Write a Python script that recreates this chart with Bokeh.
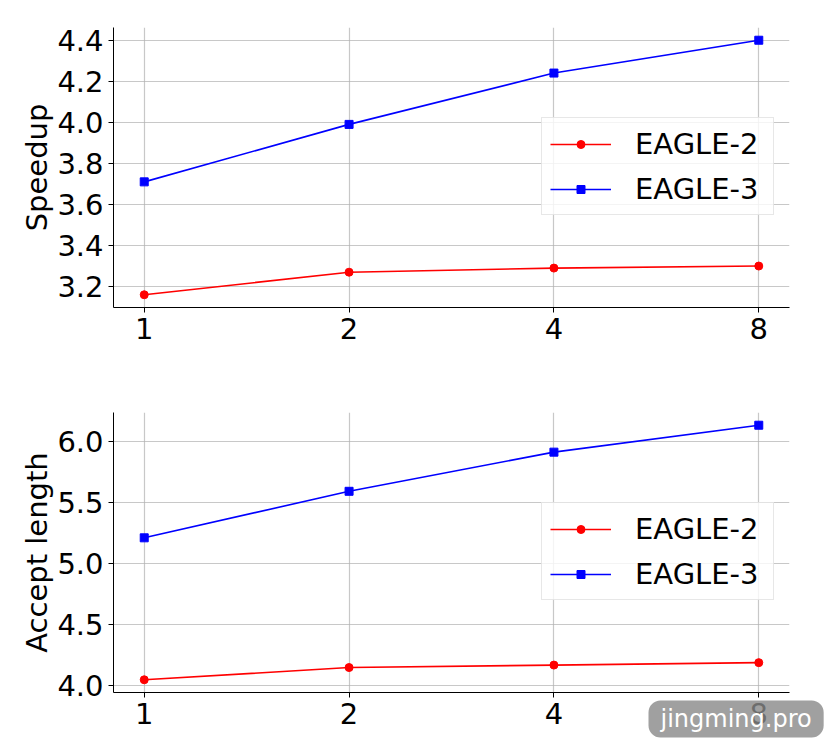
from bokeh.plotting import figure
from bokeh.layouts import column
from bokeh.models import Range1d, FixedTicker, Legend, LegendItem, Label, NumeralTickFormatter
from bokeh.embed import file_html
from bokeh.resources import INLINE

batch = ["1", "2", "4", "8"]
speed_eagle2 = [3.16, 3.27, 3.29, 3.30]
speed_eagle3 = [3.71, 3.99, 4.24, 4.40]
accept_eagle2 = [4.05, 4.15, 4.17, 4.19]
accept_eagle3 = [5.21, 5.59, 5.91, 6.13]
speed_ticks = [3.2, 3.4, 3.6, 3.8, 4.0, 4.2, 4.4]
accept_ticks = [4.0, 4.5, 5.0, 5.5, 6.0]

FONT = "DejaVu Sans"
FW, FH = 676, 280
xs = list(range(len(batch)))


def make(ylabel, e2, e3, ticks, top, bottom):
    lo = min(e2 + e3)
    hi = max(e2 + e3)
    pad = 0.05 * (hi - lo)
    p = figure(frame_width=FW, frame_height=FH, output_backend="svg",
               toolbar_location=None,
               x_range=Range1d(-0.15, len(batch) - 1 + 0.15),
               y_range=Range1d(lo - pad, hi + pad),
               min_border_left=113, min_border_right=37,
               min_border_top=top, min_border_bottom=bottom)
    p.outline_line_color = None
    p.background_fill_color = "white"
    for ax in (p.xaxis[0], p.yaxis[0]):
        ax.axis_line_color = "black"
        ax.axis_line_width = 1
        ax.major_tick_in = 0
        ax.major_tick_out = 5
        ax.major_tick_line_color = "black"
        ax.minor_tick_line_color = None
        ax.major_label_text_font = FONT
        ax.major_label_text_font_size = "29px"
        ax.major_label_text_color = "black"
        ax.major_label_standoff = 5
    p.xaxis.ticker = FixedTicker(ticks=xs)
    p.xaxis.major_label_overrides = {i: b for i, b in enumerate(batch)}
    p.yaxis.ticker = FixedTicker(ticks=ticks)
    p.yaxis.formatter = NumeralTickFormatter(format="0.0")
    p.yaxis.axis_label = ylabel
    p.yaxis.axis_label_text_font = FONT
    p.yaxis.axis_label_text_font_size = "29px"
    p.yaxis.axis_label_text_font_style = "normal"
    p.yaxis.axis_label_text_color = "black"
    p.yaxis.axis_label_standoff = 0
    p.grid.grid_line_color = "#b0b0b0"
    p.grid.grid_line_alpha = 0.7
    p.grid.grid_line_width = 1.2

    l2 = p.line(xs, e2, line_color="red", line_width=1.6)
    m2 = p.scatter(xs, e2, marker="circle", size=8, color="red")
    l3 = p.line(xs, e3, line_color="blue", line_width=1.6)
    m3 = p.scatter(xs, e3, marker="square", size=8, color="blue")

    legend = Legend(items=[LegendItem(label="EAGLE-2", renderers=[l2, m2]),
                           LegendItem(label="EAGLE-3", renderers=[l3, m3])],
                    location=(428, 92), orientation="vertical")
    legend.label_text_font = FONT
    legend.label_text_font_size = "29px"
    legend.label_text_color = "black"
    legend.glyph_width = 61
    legend.glyph_height = 20
    legend.label_height = 35
    legend.label_width = 130
    legend.label_standoff = 24
    legend.spacing = 10
    legend.padding = 8
    legend.margin = 0
    legend.border_line_color = "#d0d0d0"
    legend.border_line_width = 1
    legend.background_fill_color = "white"
    legend.background_fill_alpha = 0.8
    p.add_layout(legend)
    return p


p1 = make("Speedup", speed_eagle2, speed_eagle3, speed_ticks, 27, 50)
p2 = make("Accept length", accept_eagle2, accept_eagle3, accept_ticks, 55, 52)

# watermark, in the panel below the x axis (not clipped to the frame)
wm = Label(x=535, y=26, x_units="screen", y_units="screen",
           text="jingming.pro", text_baseline="bottom", text_align="left",
           text_font=FONT, text_font_size="24px", text_color="white",
           background_fill_color="#888888", background_fill_alpha=0.8,
           padding=dict(left=12, right=12, top=4, bottom=5), border_radius=12)
p2.add_layout(wm, "below")

layout = column(p1, p2, spacing=0)
open("out.html", "w").write(file_html(layout, INLINE))
